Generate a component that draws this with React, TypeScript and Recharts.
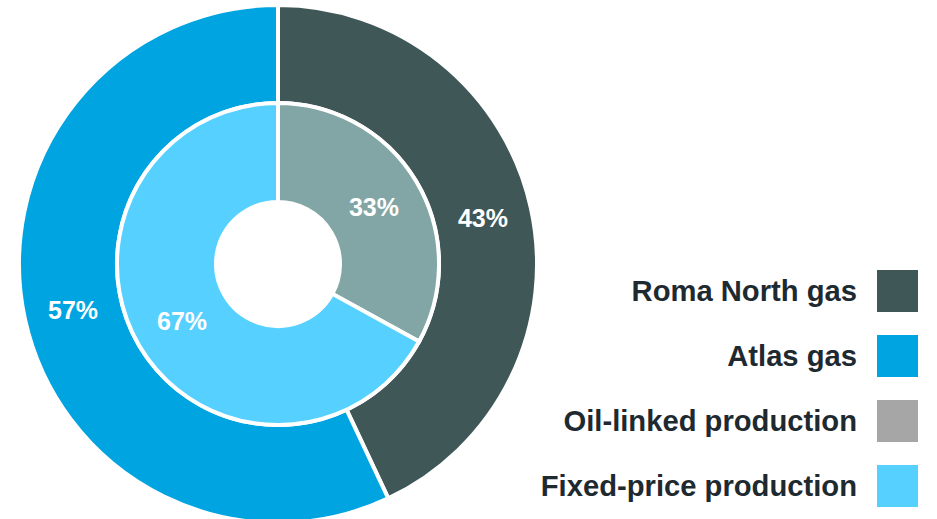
import { PieChart, Pie, Cell, Legend } from 'recharts';

const outerNames = ['Roma North gas', 'Atlas gas'];
const outerValues = [43, 57];
const outerColors = ['#3F5756', '#00A4E1'];

const innerNames = ['Oil-linked production', 'Fixed-price production'];
const innerValues = [33, 67];
const innerColors = ['#82A6A5', '#55D0FF'];

const legendNames = ['Roma North gas', 'Atlas gas', 'Oil-linked production', 'Fixed-price production'];
const legendColors = ['#3F5756', '#00A4E1', '#A6A6A6', '#55D0FF'];

const outerData = outerNames.map((name, i) => ({ name, value: outerValues[i] }));
const innerData = innerNames.map((name, i) => ({ name, value: innerValues[i] }));

const RAD = Math.PI / 180;
const FONT = '"Liberation Sans", Arial, sans-serif';

const renderLabel = (props: any) => {
  const { cx, cy, midAngle, innerRadius, outerRadius, value } = props;
  const r = (innerRadius + outerRadius) / 2;
  const x = cx + r * Math.cos(-midAngle * RAD);
  const y = cy + r * Math.sin(-midAngle * RAD);
  return (
    <text
      x={x}
      y={y}
      fill='#FFFFFF'
      textAnchor='middle'
      dominantBaseline='central'
      fontFamily={FONT}
      fontWeight='bold'
      fontSize={25}
    >
      {value}%
    </text>
  );
};

const LegendBox = () => (
  <div style={{ fontFamily: FONT }}>
    {legendNames.map((name, i) => (
      <div
        key={name}
        style={{
          display: 'flex',
          justifyContent: 'flex-end',
          alignItems: 'center',
          height: 42,
          marginBottom: 23,
        }}
      >
        <span
          style={{
            fontSize: 29.2,
            fontWeight: 'bold',
            color: '#1E2A30',
            marginRight: 20,
            whiteSpace: 'nowrap',
          }}
        >
          {name}
        </span>
        <span
          style={{
            display: 'inline-block',
            width: 41,
            height: 42,
            background: legendColors[i],
          }}
        />
      </div>
    ))}
  </div>
);

export default function App() {
  return (
    <div style={{ position: 'absolute', left: 0, top: 0, width: 937, height: 519, background: '#fff' }}>
      <PieChart width={937} height={519} margin={{ top: 0, right: 0, bottom: 0, left: 0 }}>
        <Pie
          data={outerData}
          dataKey='value'
          cx={278}
          cy={264}
          innerRadius={161}
          outerRadius={259}
          startAngle={90}
          endAngle={-270}
          stroke='#FFFFFF'
          strokeWidth={4}
          label={renderLabel}
          labelLine={false}
          isAnimationActive={false}
        >
          {outerData.map((d, i) => (
            <Cell key={d.name} fill={outerColors[i]} />
          ))}
        </Pie>
        <Pie
          data={innerData}
          dataKey='value'
          cx={278}
          cy={264}
          innerRadius={62}
          outerRadius={161}
          startAngle={90}
          endAngle={-270}
          stroke='#FFFFFF'
          strokeWidth={4}
          label={renderLabel}
          labelLine={false}
          isAnimationActive={false}
        >
          {innerData.map((d, i) => (
            <Cell key={d.name} fill={innerColors[i]} />
          ))}
        </Pie>
        <Legend
          content={<LegendBox />}
          wrapperStyle={{ position: 'absolute', top: 270, right: 19, left: 'auto', bottom: 'auto', width: 'auto' }}
        />
      </PieChart>
    </div>
  );
}
